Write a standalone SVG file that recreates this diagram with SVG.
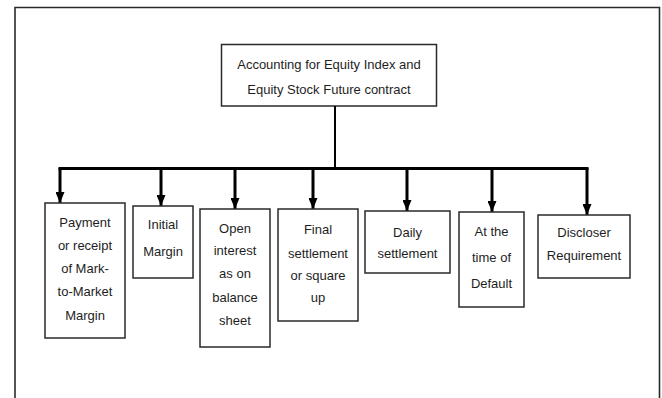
<svg xmlns="http://www.w3.org/2000/svg" width="662" height="398" viewBox="0 0 662 398">
<style>
.frame{fill:none;stroke:#2a2a2a;stroke-width:1.6}
.box{fill:#ffffff;stroke:#2a2a2a;stroke-width:1.5}
.t{font-family:"Liberation Sans",Arial,sans-serif;font-size:13px;fill:#1e1e1e;text-anchor:middle}
.bus{fill:none;stroke:#000;stroke-width:3}
.stem{fill:none;stroke:#000;stroke-width:2}
</style>
<defs>
<marker id="ah" markerUnits="userSpaceOnUse" markerWidth="11" markerHeight="9" refX="11" refY="4.5" orient="auto">
<path d="M0,0 L11,4.5 L0,9 z" fill="#000"/>
</marker>
</defs>
<rect width="662" height="398" fill="#ffffff"/>
<path class="frame" d="M15,400 L15,7.5 L659.5,7.5 L659.5,400"/>
<g id="root">
<rect class="box" x="221.5" y="44.5" width="215" height="61.5"/>
<text class="t" x="329" y="68.5">Accounting for Equity Index and</text>
<text class="t" x="329" y="93.5">Equity Stock Future contract</text>
</g>
<g id="connectors">
<line class="stem" x1="335" y1="106" x2="335" y2="168"/>
<line class="bus" x1="58.5" y1="168.5" x2="588.5" y2="168.5"/>
<line class="bus" x1="60" y1="168" x2="60" y2="203" marker-end="url(#ah)"/>
<line class="bus" x1="161" y1="168" x2="161" y2="206" marker-end="url(#ah)"/>
<line class="bus" x1="235" y1="168" x2="235" y2="209" marker-end="url(#ah)"/>
<line class="bus" x1="313" y1="168" x2="313" y2="209" marker-end="url(#ah)"/>
<line class="bus" x1="407" y1="168" x2="407" y2="211" marker-end="url(#ah)"/>
<line class="bus" x1="492" y1="168" x2="492" y2="212" marker-end="url(#ah)"/>
<line class="bus" x1="587" y1="168" x2="587" y2="215" marker-end="url(#ah)"/>
</g>
<g id="n1">
<rect class="box" x="45" y="203" width="80" height="135"/>
<text class="t" x="85" y="226.5">Payment</text>
<text class="t" x="85" y="249.5">or receipt</text>
<text class="t" x="85" y="272.5">of Mark-</text>
<text class="t" x="85" y="295.5">to-Market</text>
<text class="t" x="85" y="319.5">Margin</text>
</g>
<g id="n2">
<rect class="box" x="133" y="206" width="60" height="72"/>
<text class="t" x="163" y="228.5">Initial</text>
<text class="t" x="163" y="255.5">Margin</text>
</g>
<g id="n3">
<rect class="box" x="200" y="209" width="70" height="138"/>
<text class="t" x="235" y="232.5">Open</text>
<text class="t" x="235" y="254.5">interest</text>
<text class="t" x="235" y="277.5">as on</text>
<text class="t" x="235" y="301.5">balance</text>
<text class="t" x="235" y="324.5">sheet</text>
</g>
<g id="n4">
<rect class="box" x="278" y="209" width="80" height="112"/>
<text class="t" x="318" y="233.5">Final</text>
<text class="t" x="318" y="257.5">settlement</text>
<text class="t" x="318" y="279.5">or square</text>
<text class="t" x="318" y="301.5">up</text>
</g>
<g id="n5">
<rect class="box" x="365" y="211" width="85" height="62"/>
<text class="t" x="407.5" y="236.5">Daily</text>
<text class="t" x="407.5" y="257.5">settlement</text>
</g>
<g id="n6">
<rect class="box" x="459" y="212" width="65" height="95"/>
<text class="t" x="491.5" y="235.5">At the</text>
<text class="t" x="491.5" y="261.5">time of</text>
<text class="t" x="491.5" y="287.5">Default</text>
</g>
<g id="n7">
<rect class="box" x="538" y="215" width="92" height="63"/>
<text class="t" x="584" y="236.5">Discloser</text>
<text class="t" x="584" y="259.5">Requirement</text>
</g>
</svg>
